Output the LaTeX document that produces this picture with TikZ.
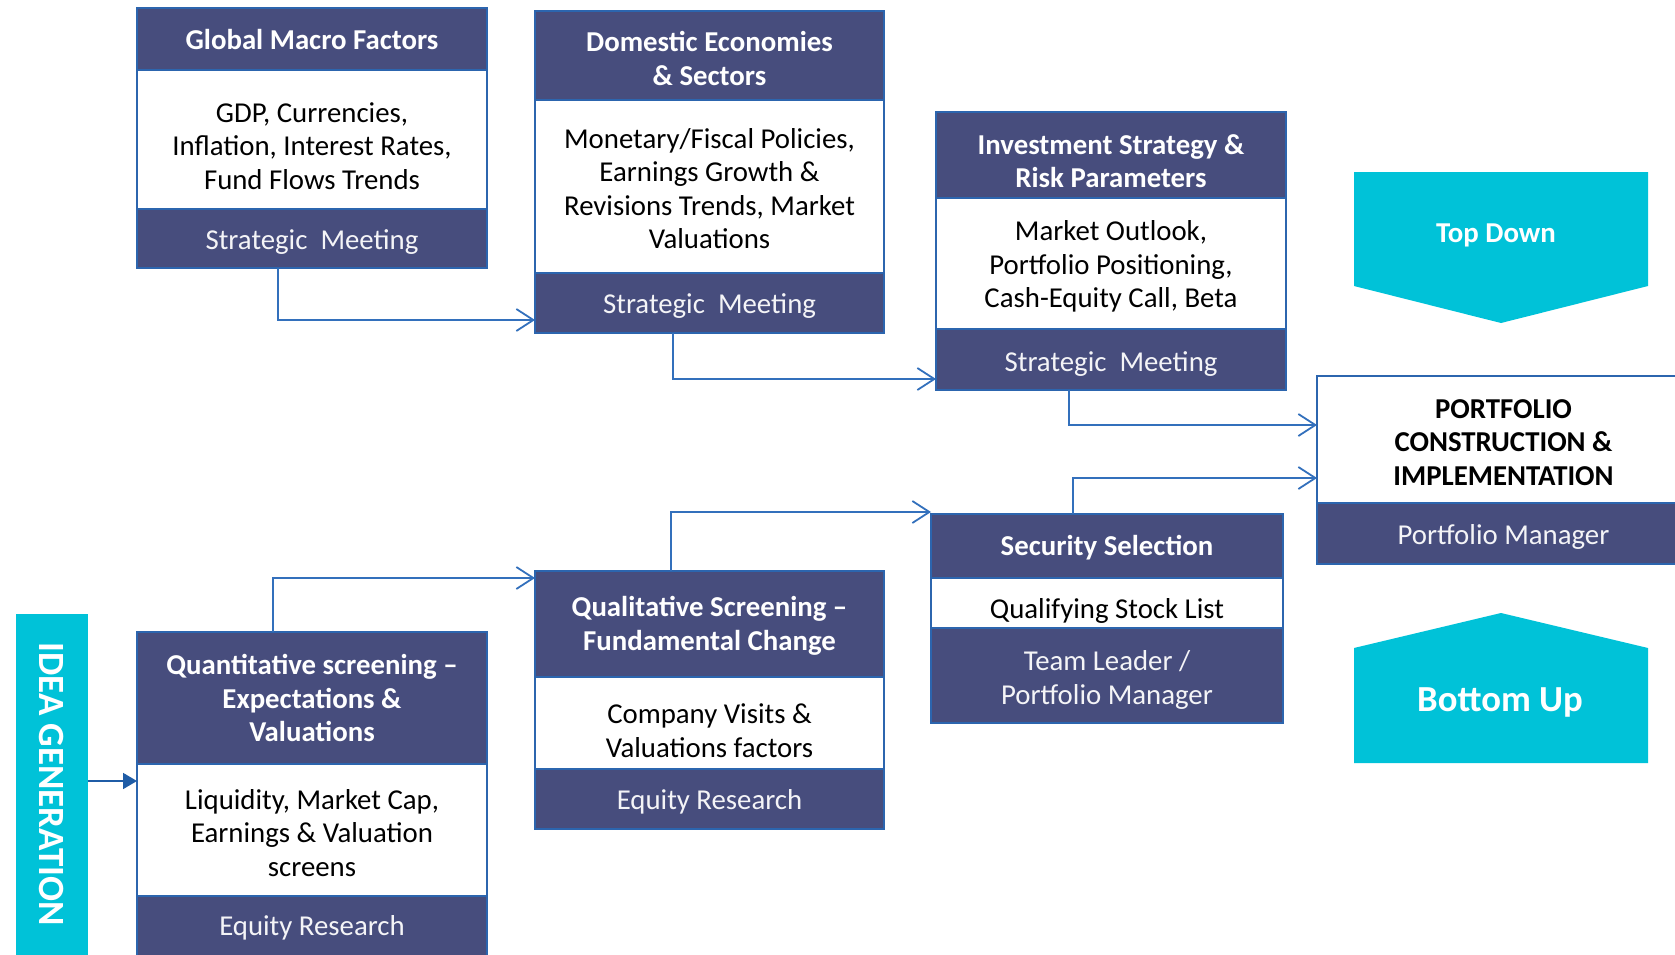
\documentclass[tikz,border=0pt]{standalone}
\usepackage{fontspec}
\setmainfont{Carlito}
\usetikzlibrary{arrows.meta,calc}
\definecolor{navy}{HTML}{474D7D}
\definecolor{edge}{HTML}{2C65AE}
\definecolor{aqua}{HTML}{00C2D8}
\definecolor{wire}{HTML}{3370BC}
\definecolor{deepblue}{HTML}{1F5CA6}

% one band of a stacked box: [text drop], name, x1, y1, x2, y2, style, text
\newcommand\band[8][-4]{%
  \node[#7, minimum width={(#5-#3)*1pt}, minimum height={(#6-#4)*1pt},
        anchor=north west] (#2) at (#3,#4) {};
  \node[#7, draw=none, fill=none, yshift=#1pt] (#2-t) at (#2.center) {#8};}

\tikzset{
  part/.style={draw=edge, line width=1.8pt, align=center, inner sep=0pt, outer sep=0pt},
  head/.style={part, fill=navy, text=white, font=\fontsize{28.8}{33.5}\selectfont\bfseries},
  body/.style={part, fill=white, text=black, font=\fontsize{28.8}{33.5}\selectfont},
  bodybold/.style={part, fill=white, text=black, font=\fontsize{28.8}{33.5}\selectfont\bfseries},
  foot/.style={part, fill=navy, text=white!94!navy, font=\fontsize{28.8}{33.5}\selectfont},
  conn/.style={draw=wire, line width=1.8pt, -{Straight Barb[length=17pt,width=22pt]}},
  bigarrow/.style={fill=aqua},
  arrowtext/.style={text=white},
}

\begin{document}
\begin{tikzpicture}[x=1pt,y=-1pt]
\useasboundingbox (0,0) rectangle (1675,955);

% Global macro factors
\band[-6.4]{gmB}{137}{70}{487}{209}{body}{GDP, Currencies,\\Inflation, Interest Rates,\\Fund Flows Trends}
\band[-1]{gmH}{137}{8}{487}{70}{head}{Global Macro Factors}
\band[-3.2]{gmF}{137}{209}{487}{268}{foot}{Strategic~ Meeting}

% Domestic economies
\band[-2.1]{deB}{535}{100}{884}{273}{body}{Monetary/Fiscal Policies,\\Earnings Growth \&\\Revisions Trends, Market\\Valuations}
\band[-3.2]{deH}{535}{11}{884}{100}{head}{Domestic Economies\\\& Sectors}
\band[-3.2]{deF}{535}{273}{884}{333}{foot}{Strategic~ Meeting}

% Investment strategy
\band[-3.2]{isB}{936}{198}{1286}{329}{body}{Market Outlook,\\Portfolio Positioning,\\Cash-Equity Call, Beta}
\band[-6.4]{isH}{936}{112}{1286}{198}{head}{Investment Strategy \&\\Risk Parameters}
\band[-4.3]{isF}{936}{329}{1286}{390}{foot}{Strategic~ Meeting}

% Portfolio construction
\band[-3]{pcB}{1317}{376}{1690}{503}{bodybold}{PORTFOLIO\\CONSTRUCTION \&\\IMPLEMENTATION}
\band[-3.2]{pcF}{1317}{503}{1690}{564}{foot}{Portfolio Manager}

% Security selection
\band[-7.5]{ssB}{931}{578}{1283}{628}{body}{Qualifying Stock List}
\band[-2]{ssH}{931}{514}{1283}{578}{head}{Security Selection}
\band[-4.3]{ssF}{931}{628}{1283}{723}{foot}{Team Leader /\\Portfolio Manager}

% Qualitative screening
\band[-7.5]{qsB}{535}{677}{884}{769}{body}{Company Visits \&\\Valuations factors}
\band[-2]{qsH}{535}{571}{884}{677}{head}{Qualitative Screening --\\Fundamental Change}
\band[-3.2]{qsF}{535}{769}{884}{829}{foot}{Equity Research}

% Quantitative screening
\band[-2.7]{qnB}{137}{764}{487}{896}{body}{Liquidity, Market Cap,\\Earnings \& Valuation\\screens}
\band[0]{qnH}{137}{632}{487}{764}{head}{Quantitative screening --\\Expectations \&\\Valuations}
\band[1]{qnF}{137}{896}{487}{962}{foot}{Equity Research}

% Idea generation bar
\node[fill=aqua, rotate=-90, minimum width=348pt, minimum height=72pt, inner sep=0pt,
      text=white, font=\fontsize{37}{40}\selectfont\bfseries] (idea) at (52,788)
      {\raisebox{0pt}{\hspace*{-8pt}IDEA GENERATION}};

% Top-down and bottom-up chevrons
\fill[bigarrow] (1354,172) -- (1648,172) -- (1648,286) -- (1501,323) -- (1354,286) -- cycle;
\node[arrowtext, font=\fontsize{28.8}{32}\selectfont\bfseries] (td) at (1496,235) {Top Down};
\fill[bigarrow] (1354,763) -- (1354,648) -- (1501,613) -- (1648,648) -- (1648,763) -- cycle;
\node[arrowtext, font=\fontsize{36.7}{40}\selectfont\bfseries] (bu) at (1500,702) {Bottom Up};

% Connectors
\draw[conn] ([xshift=-34pt]gmF.south) |- ([yshift=-17pt]deF.west);
\draw[conn] ([xshift=-36.5pt]deF.south) |- ([yshift=-19.5pt]isF.west);
\draw[conn] ([xshift=-42pt]isF.south) |- ([yshift=14.5pt]pcB.west);
\draw[conn] ([xshift=-34pt]ssH.north) |- ([yshift=-38.5pt]pcB.west);
\draw[conn] ([xshift=-38.5pt]qsH.north) |- ([yshift=2pt]ssH.north west);
\draw[conn] ([xshift=-39pt]qnH.north) |- ([yshift=-7pt]qsH.north west);
\draw[draw=deepblue, line width=1.8pt, -{Triangle[length=14pt,width=16pt]}]
  ([yshift=7pt]idea.north) -- ([yshift=7pt]idea.north -| qnB.west);
\end{tikzpicture}
\end{document}
